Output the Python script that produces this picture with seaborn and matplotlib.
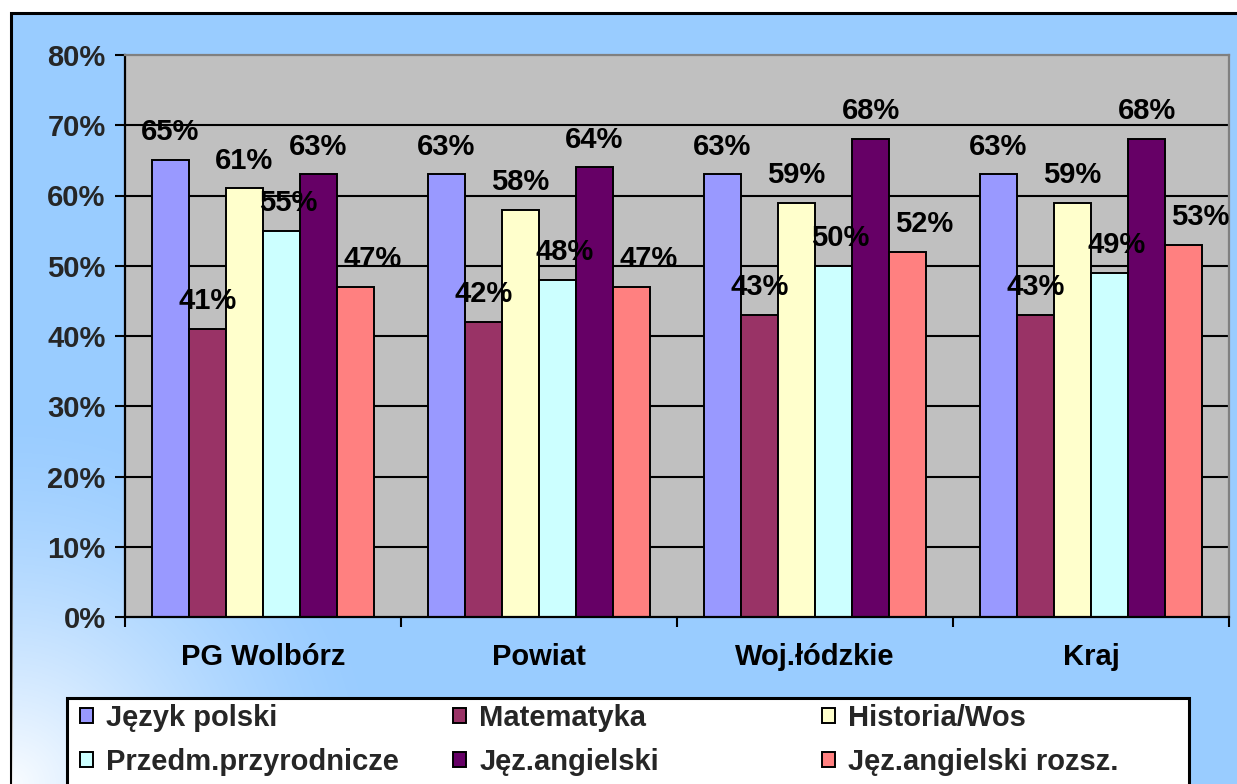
import numpy as np
import pandas as pd
import matplotlib
matplotlib.use("Agg")
import matplotlib.pyplot as plt
from matplotlib.patches import Rectangle, Patch
from matplotlib.ticker import FuncFormatter, FixedLocator
import seaborn as sns

# ---- data ----
regions = ["PG Wolbórz", "Powiat", "Woj.łódzkie", "Kraj"]
subjects = ["Język polski", "Matematyka", "Historia/Wos",
            "Przedm.przyrodnicze", "Jęz.angielski", "Jęz.angielski rozsz."]
jezyk_polski = [65, 63, 63, 63]
matematyka = [41, 42, 43, 43]
historia_wos = [61, 58, 59, 59]
przyrodnicze = [55, 48, 50, 49]
angielski = [63, 64, 68, 68]
angielski_rozsz = [47, 47, 52, 53]
y_ticks = [0, 10, 20, 30, 40, 50, 60, 70, 80]

series = [jezyk_polski, matematyka, historia_wos, przyrodnicze, angielski, angielski_rozsz]
colors = ["#9999FF", "#993366", "#FFFFCC", "#CCFFFF", "#660066", "#FF8080"]

rows = []
for s, vals in zip(subjects, series):
    for r, v in zip(regions, vals):
        rows.append({"region": r, "subject": s, "value": v})
df = pd.DataFrame(rows)

W, H = 1237, 784
FS = 21
sns.set_theme(style="white")
plt.rcParams["font.family"] = ["Liberation Sans", "DejaVu Sans"]
plt.rcParams["font.weight"] = "bold"

fig = plt.figure(figsize=(W / 100, H / 100), dpi=100)
fig.patch.set_facecolor("white")

# ---- background (frame, gradient, legend box) ----
bg = fig.add_axes([0, 0, 1, 1], zorder=-5)
bg.axis("off")
bg.add_patch(Rectangle((11, 13), W + 20, H + 20, facecolor="#99CCFF",
                       edgecolor="black", lw=2.2, zorder=1))
yy, xx = np.mgrid[0:H, 0:W]
d = np.hypot(xx - 11, yy - H)
alpha = np.clip(1 - d / 380.0, 0, 1) ** 1.5
img = np.zeros((H, W, 4))
img[..., :3] = 1.0
img[..., 3] = alpha * 0.95
img[:, :12, 3] = 0
bg.imshow(img, extent=(0, W, H, 0), zorder=2, interpolation="bilinear")
bg.set_xlim(0, W)
bg.set_ylim(H, 0)
bg.add_patch(Rectangle((67, 698), 1189 - 67, 200, facecolor="white",
                       edgecolor="black", lw=2.2, zorder=3))

# ---- main axes ----
ax = fig.add_axes([125 / W, 1 - 617 / H, (1229 - 125) / W, (617 - 55) / H], zorder=1)
ax.set_facecolor("#C0C0C0")
sns.barplot(data=df, x="region", y="value", hue="subject", order=regions,
            hue_order=subjects, palette=colors, width=0.805, gap=0,
            edgecolor="black", linewidth=1.4, saturation=1, legend=False,
            errorbar=None, ax=ax, zorder=3)

ax.set_ylim(0, 80)
ax.set_xlim(-0.5, 3.5)
ax.set_yticks(y_ticks)
ax.yaxis.set_major_formatter(FuncFormatter(lambda v, p: f"{int(v)}%"))
ax.grid(False)
for v in y_ticks[1:-1]:
    ax.axhline(v, color="black", lw=1.5, zorder=1)

ax.set_xticks(np.arange(len(regions)))
ax.set_xticklabels(regions)
ax.xaxis.set_minor_locator(FixedLocator(np.arange(-0.5, len(regions), 1.0)))
ax.tick_params(axis="x", which="major", length=0, pad=19, labelsize=FS, colors="black")
ax.tick_params(axis="x", which="minor", length=7, width=1.5, direction="out",
               color="black", bottom=True)
ax.tick_params(axis="y", length=7, width=1.5, direction="out", pad=7,
               labelsize=FS, color="black", left=True)
for lab in ax.get_xticklabels() + ax.get_yticklabels():
    lab.set_fontweight("bold")
ax.set_xlabel("")
ax.set_ylabel("")

for side in ["left", "bottom"]:
    ax.spines[side].set_color("black")
    ax.spines[side].set_linewidth(1.6)
for side in ["top", "right"]:
    ax.spines[side].set_color("#808080")
    ax.spines[side].set_linewidth(1.6)
for sp in ax.spines.values():
    sp.set_zorder(4)

# ---- data labels ----
label_dx = [0, 0, 0, 5, 0, 12]  # points, per series
for i, cont in enumerate(ax.containers):
    for bar in cont:
        h = bar.get_height()
        ax.annotate(f"{int(round(h))}%", (bar.get_x() + bar.get_width() / 2, h),
                    xytext=(label_dx[i], 10), textcoords="offset points",
                    ha="center", va="bottom", fontsize=FS, fontweight="bold",
                    color="black", zorder=6, annotation_clip=False)

# ---- legend (row-major like the original, three columns) ----
handles = [Patch(facecolor=c, edgecolor="black", lw=1.4) for c in colors]
col_x = [80, 453, 822]
for c in range(3):
    idx = [c, c + 3]
    fig.legend([handles[k] for k in idx], [subjects[k] for k in idx],
               loc="upper left", bbox_to_anchor=(col_x[c] / W, 1 - 704 / H),
               frameon=False, prop={"weight": "bold", "size": FS},
               handlelength=0.45, handleheight=0.45, handletextpad=0.45,
               labelspacing=0.55, borderpad=0, borderaxespad=0)

fig.savefig("out.png", dpi=100)
